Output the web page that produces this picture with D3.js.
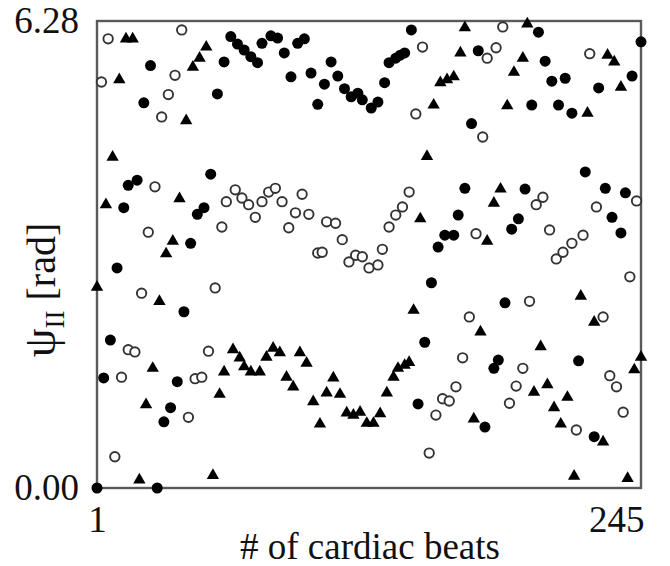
<!DOCTYPE html>
<html><head><meta charset="utf-8">
<script src="https://cdn.jsdelivr.net/npm/d3@7"></script>
<style>html,body{margin:0;padding:0;background:#fff;}svg{display:block;}</style>
</head><body>
<svg id="chart" width="670" height="566"></svg>
<script>
const xTicks = [1, 245];
const yTicks = [0, 6.28];
const yTickLabels = ["0.00", "6.28"];
const xLabel = "# of cardiac beats";

const filledCircles = [[1,0.00],[28,0.00],[4,1.48],[7,1.99],[10,2.96],[13,3.77],[15,4.07],[19,4.14],[22,5.18],[25,5.68],[31,0.89],[34,1.08],[37,1.43],[40,2.37],[43,3.29],[46,3.68],[49,3.77],[52,4.22],[55,5.30],[58,5.73],[61,6.07],[64,5.97],[67,5.89],[70,5.80],[73,5.72],[75,5.98],[79,6.08],[82,6.05],[85,5.85],[88,5.53],[91,5.98],[94,6.04],[97,5.58],[100,5.16],[103,5.43],[106,5.73],[109,5.54],[112,5.37],[115,5.26],[118,5.31],[120,5.22],[124,5.11],[127,5.19],[130,5.45],[132,5.72],[135,5.78],[137,5.82],[139,5.85],[142,6.16],[145,1.13],[148,1.96],[151,2.76],[154,3.24],[157,3.40],[161,3.40],[163,3.67],[166,4.03],[169,4.90],[172,5.88],[175,0.82],[179,1.61],[181,1.72],[184,2.49],[187,3.48],[190,3.62],[193,4.02],[196,5.15],[199,6.13],[202,5.74],[205,5.47],[208,5.15],[211,5.51],[214,5.04],[217,1.71],[220,4.25],[224,0.69],[226,5.38],[229,4.03],[232,3.64],[236,3.43],[238,3.97],[241,5.54],[245,6.00]];

const openCircles = [[3,5.46],[6,6.04],[9,0.42],[12,1.49],[15,1.86],[18,1.83],[21,2.62],[24,3.44],[27,4.05],[30,4.99],[33,5.29],[36,5.55],[39,6.16],[42,0.95],[45,1.47],[48,1.49],[51,1.84],[54,2.69],[57,3.51],[59,3.85],[63,4.01],[66,3.90],[69,3.81],[72,3.64],[75,3.85],[78,3.98],[81,4.03],[84,3.85],[87,3.50],[90,3.70],[93,3.95],[96,3.68],[100,3.16],[102,3.17],[104,3.58],[108,3.56],[111,3.34],[114,3.04],[117,3.13],[120,3.11],[123,2.96],[127,3.00],[129,3.21],[132,3.51],[135,3.67],[138,3.78],[141,3.98],[144,5.03],[147,5.93],[150,0.47],[153,0.98],[156,1.20],[159,1.17],[162,1.36],[165,1.75],[168,2.30],[171,3.42],[174,4.72],[176,5.78],[180,5.92],[183,6.20],[186,1.14],[189,1.37],[192,1.61],[195,2.51],[198,3.81],[201,3.91],[204,3.47],[207,3.08],[210,3.17],[214,3.29],[216,0.78],[219,3.40],[222,5.84],[225,3.78],[228,2.30],[231,1.51],[234,1.36],[237,1.02],[240,2.84],[243,3.86]];

const triangles = [[1,2.70],[5,3.81],[8,4.45],[11,5.49],[14,6.04],[17,6.04],[20,0.11],[23,1.12],[26,1.61],[29,2.51],[32,3.15],[35,3.32],[38,3.89],[41,4.94],[44,5.66],[47,5.78],[50,5.93],[53,0.17],[56,1.26],[58,1.56],[62,1.86],[65,1.75],[67,1.63],[70,1.56],[74,1.56],[77,1.76],[80,1.88],[83,1.82],[86,1.49],[89,1.36],[92,1.82],[95,1.68],[98,1.16],[101,0.86],[104,1.28],[107,1.48],[110,1.26],[113,1.01],[116,0.98],[119,1.02],[122,0.87],[125,0.87],[128,1.00],[131,1.28],[134,1.49],[136,1.61],[139,1.65],[141,1.69],[143,2.39],[146,3.62],[149,4.46],[152,5.15],[155,5.45],[158,5.49],[161,5.53],[164,5.85],[166,6.19],[170,0.93],[173,2.10],[176,3.32],[179,3.83],[182,4.02],[185,5.14],[188,5.59],[192,5.78],[194,6.24],[197,1.29],[200,1.90],[203,1.39],[206,1.08],[209,0.86],[212,1.22],[215,0.16],[218,2.58],[221,5.04],[224,2.23],[228,0.62],[230,5.82],[233,5.73],[236,5.39],[239,0.13],[242,1.59],[245,1.76]];

const svg = d3.select("#chart");
const margin = {left: 97, right: 29, top: 21, bottom: 78};
const W = 670, H = 566;
const x = d3.scaleLinear().domain([1, 245]).range([margin.left, W - margin.right]);
const y = d3.scaleLinear().domain([0, 6.28]).range([H - margin.bottom, margin.top]);
const font = "'Liberation Serif', 'Times New Roman', serif";
const fs = 37;

// frame
svg.append("rect")
  .attr("x", x(1)).attr("y", y(6.28))
  .attr("width", x(245) - x(1)).attr("height", y(0) - y(6.28))
  .attr("fill", "none").attr("stroke", "#5a5a5a").attr("stroke-width", 2.4);

// points
const g = svg.append("g");
g.selectAll("circle.open").data(openCircles).join("circle")
  .attr("class", "open")
  .attr("cx", d => x(d[0])).attr("cy", d => y(d[1])).attr("r", 4.7)
  .attr("fill", "#fff").attr("stroke", "#333").attr("stroke-width", 1.9);
g.selectAll("path.tri").data(triangles).join("path")
  .attr("class", "tri")
  .attr("transform", d => `translate(${x(d[0])},${y(d[1])})`)
  .attr("d", d3.symbol().type(d3.symbolTriangle).size(66))
  .attr("fill", "#000");
g.selectAll("circle.filled").data(filledCircles).join("circle")
  .attr("class", "filled")
  .attr("cx", d => x(d[0])).attr("cy", d => y(d[1])).attr("r", 5.5)
  .attr("fill", "#000");

// axes tick labels (custom, as in the reference)
const yAxis = d3.axisLeft(y).tickValues(yTicks).tickFormat((d, i) => yTickLabels[i]).tickSize(0).tickPadding(18);
const ya = svg.append("g").attr("transform", `translate(${margin.left},0)`).call(yAxis);
ya.select(".domain").remove();
ya.selectAll("text").attr("font-family", font).attr("font-size", fs).attr("fill", "#111");

const xAxis = d3.axisBottom(x).tickValues(xTicks).tickFormat(d3.format("d")).tickSize(0).tickPadding(18);
const xa = svg.append("g").attr("transform", `translate(0,${H - margin.bottom})`).call(xAxis);
xa.select(".domain").remove();
xa.selectAll("text").attr("font-family", font).attr("font-size", fs).attr("fill", "#111")
  .attr("text-anchor", (d, i) => i === 1 ? "end" : "middle")
  .attr("dx", (d, i) => i === 1 ? 3 : 0);

// axis titles
svg.append("text")
  .attr("x", 370).attr("y", 559)
  .attr("text-anchor", "middle")
  .attr("font-family", font).attr("font-size", fs).attr("fill", "#111")
  .text(xLabel);

const yl = svg.append("text")
  .attr("transform", "translate(55,290) rotate(-90)")
  .attr("text-anchor", "middle")
  .attr("font-family", font).attr("font-size", 40).attr("fill", "#111");
yl.append("tspan").attr("font-size", 46).text("ψ");
yl.append("tspan").attr("font-size", 27).attr("dy", 9).text("II");
yl.append("tspan").attr("dy", -9).text(" [rad]");
</script>
</body></html>
